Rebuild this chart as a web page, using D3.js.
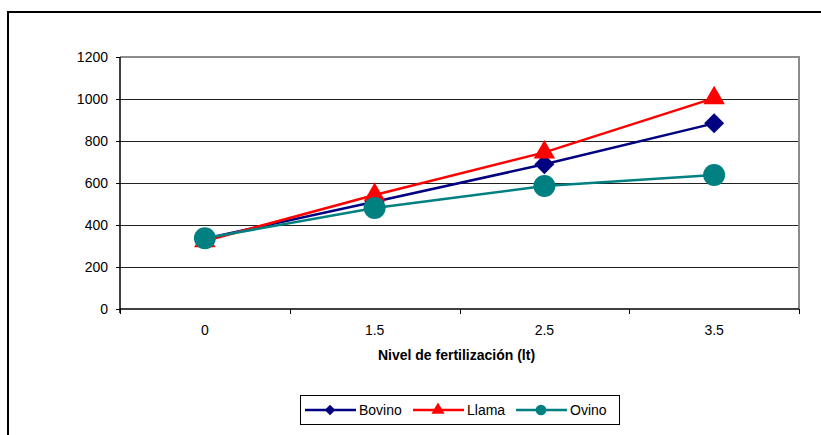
<!DOCTYPE html>
<html>
<head>
<meta charset="utf-8">
<script src="https://cdn.jsdelivr.net/npm/d3@7"></script>
<style>
  html, body { margin: 0; padding: 0; background: #fff; }
  svg { display: block; font-family: "Liberation Sans", Arial, sans-serif; }
</style>
</head>
<body>
<svg id="chart" width="821" height="435"></svg>
<script>
// Fertilization levels (categorical x axis) and yields per animal manure type
const categories = ["0", "1.5", "2.5", "3.5"];
const bovino = [335, 511, 689, 884];
const llama  = [324, 543, 746, 1004];
const ovino  = [337, 481, 586, 638];
const yTicks = [0, 200, 400, 600, 800, 1000, 1200];

const series = [
  { name: "Bovino", values: bovino, color: "#000080", symbol: "diamond" },
  { name: "Llama",  values: llama,  color: "#FF0000", symbol: "triangle" },
  { name: "Ovino",  values: ovino,  color: "#008080", symbol: "circle" }
];

const svg = d3.select("#chart");

// Outer chart frame
svg.append("path")
  .attr("d", "M8,440 L8,12 L830,12")
  .attr("fill", "none").attr("stroke", "#000").attr("stroke-width", 2);

const plot = { left: 120, top: 57, right: 799, bottom: 309 };

const x = d3.scaleBand().domain(categories).range([plot.left, plot.right]).padding(0);
const y = d3.scaleLinear().domain([0, 1200]).range([plot.bottom, plot.top]);

// Horizontal gridlines
svg.append("g")
  .selectAll("line")
  .data(yTicks.filter(d => d > 0 && d < 1200))
  .join("line")
  .attr("x1", plot.left).attr("x2", plot.right)
  .attr("y1", d => Math.round(y(d)) + 0.5).attr("y2", d => Math.round(y(d)) + 0.5)
  .attr("stroke", "#222").attr("stroke-width", 1);

// Plot area border (top and right)
svg.append("path")
  .attr("d", `M${plot.left},${plot.top} L${plot.right},${plot.top} L${plot.right},${plot.bottom}`)
  .attr("fill", "none").attr("stroke", "#8c8c8c").attr("stroke-width", 2);

// Y axis
const yAxis = svg.append("g")
  .attr("transform", `translate(${plot.left},0)`)
  .call(d3.axisLeft(y).tickValues(yTicks).tickSize(4).tickPadding(8).tickFormat(d3.format("d")));
yAxis.select(".domain").attr("stroke", "#000").attr("stroke-width", 1.5).attr("d", `M0,${plot.top}V${plot.bottom + 4}`);
yAxis.selectAll(".tick line").attr("stroke", "#000");
yAxis.selectAll("text").attr("font-size", 14).attr("fill", "#000")
  .attr("font-family", "Liberation Sans, Arial, sans-serif");

// X axis: ticks sit on the category boundaries, labels at band centres
const boundaries = categories.map(c => x(c)).concat([plot.right]);
const xAxisG = svg.append("g");
xAxisG.append("line")
  .attr("x1", plot.left).attr("x2", plot.right)
  .attr("y1", plot.bottom).attr("y2", plot.bottom)
  .attr("stroke", "#000").attr("stroke-width", 1.5);
xAxisG.selectAll("line.tk")
  .data(boundaries)
  .join("line").attr("class", "tk")
  .attr("x1", d => Math.round(d) + 0.5).attr("x2", d => Math.round(d) + 0.5)
  .attr("y1", plot.bottom).attr("y2", plot.bottom + 5)
  .attr("stroke", "#000");
xAxisG.selectAll("text")
  .data(categories)
  .join("text")
  .attr("x", d => x(d) + x.bandwidth() / 2)
  .attr("y", plot.bottom + 26)
  .attr("text-anchor", "middle")
  .attr("font-size", 14)
  .text(d => d);

// X axis title
svg.append("text")
  .attr("x", (plot.left + plot.right) / 2 - 3)
  .attr("y", 360)
  .attr("text-anchor", "middle")
  .attr("font-size", 14).attr("font-weight", "bold")
  .text("Nivel de fertilización (lt)");

const cx = c => x(c) + x.bandwidth() / 2;
// Diamonds are squares turned by 45 degrees
const symbolType = { diamond: d3.symbolSquare, triangle: d3.symbolTriangle, circle: d3.symbolCircle };
const symbolRot = { diamond: 45, triangle: 0, circle: 0 };
const symbolSize = { diamond: 200, triangle: 200, circle: 380 };

const line = d3.line().x((d, i) => cx(categories[i])).y(d => y(d));

// Lines first, then markers on top, series by series
series.forEach(s => {
  svg.append("path")
    .datum(s.values)
    .attr("d", line)
    .attr("fill", "none")
    .attr("stroke", s.color)
    .attr("stroke-width", 2.5);
  svg.append("g").selectAll("path")
    .data(s.values)
    .join("path")
    .attr("transform", (d, i) => `translate(${cx(categories[i])},${y(d)}) rotate(${symbolRot[s.symbol]})`)
    .attr("d", d3.symbol().type(symbolType[s.symbol]).size(symbolSize[s.symbol]))
    .attr("fill", s.color);
});

// Legend
const legend = svg.append("g");
legend.append("rect")
  .attr("x", 300.5).attr("y", 395.5).attr("width", 319).attr("height", 29)
  .attr("fill", "#fff").attr("stroke", "#000").attr("stroke-width", 1);
const legendX = [305, 413, 516];
const legendSize = { diamond: 55, triangle: 75, circle: 90 };
series.forEach((s, i) => {
  const g = legend.append("g").attr("transform", `translate(${legendX[i]},410)`);
  g.append("line").attr("x1", 0).attr("x2", 51).attr("y1", 0).attr("y2", 0)
    .attr("stroke", s.color).attr("stroke-width", 2.5);
  g.append("path")
    .attr("transform", `translate(25,0) rotate(${symbolRot[s.symbol]})`)
    .attr("d", d3.symbol().type(symbolType[s.symbol]).size(legendSize[s.symbol]))
    .attr("fill", s.color);
  g.append("text").attr("x", 54).attr("y", 5)
    .attr("font-size", 14).text(s.name);
});
</script>
</body>
</html>
